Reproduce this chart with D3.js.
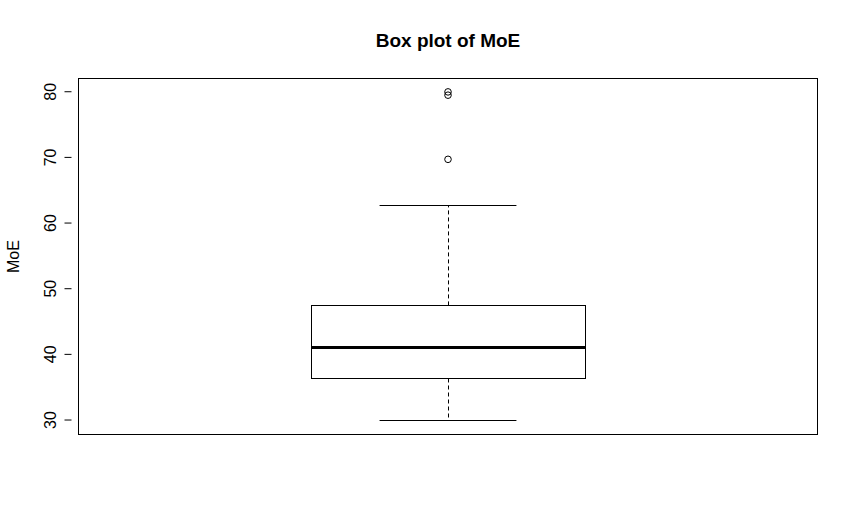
<!DOCTYPE html>
<html>
<head>
<meta charset="utf-8">
<script src="https://cdn.jsdelivr.net/npm/d3@7"></script>
<style>
  html, body { margin: 0; padding: 0; background: #ffffff; }
  svg { display: block; }
  text { font-family: "Liberation Sans", Arial, sans-serif; fill: #000; }
</style>
</head>
<body>
<script>
// ---- data ----
const title = "Box plot of MoE";
const yLabel = "MoE";
const groups = ["MoE"];
// five-number summary: lower whisker, Q1, median, Q3, upper whisker
const stats = [29.9, 36.25, 40.98, 47.38, 62.62];
const outliers = [69.63, 79.4, 79.9];
const yTicks = [30, 40, 50, 60, 70, 80];

// ---- layout ----
const W = 858, H = 532;
const plot = { left: 78.5, right: 817.5, top: 78.5, bottom: 434.5 };

const svg = d3.select("body").append("svg")
  .attr("width", W).attr("height", H);

const y = d3.scaleLinear()
  .domain([27.72, 81.94])
  .range([plot.bottom, plot.top]);

const x = d3.scaleLinear()
  .domain([0.46, 1.54])
  .range([plot.left, plot.right]);

// plot frame
svg.append("rect")
  .attr("x", plot.left).attr("y", plot.top)
  .attr("width", plot.right - plot.left)
  .attr("height", plot.bottom - plot.top)
  .attr("fill", "none").attr("stroke", "#000").attr("stroke-width", 1);

// y axis
const yAxis = d3.axisLeft(y).tickValues(yTicks).tickSize(7).tickPadding(0)
  .tickFormat(d3.format("d"));
const ag = svg.append("g").attr("transform", `translate(${plot.left - 7},0)`).call(yAxis);
ag.select(".domain").remove();
ag.selectAll(".tick line").attr("stroke", "#000").attr("x1", 0).attr("x2", 7)
  .attr("transform", "translate(-7,0)");
ag.selectAll(".tick text")
  .attr("x", 0).attr("y", 0).attr("dy", null)
  .attr("text-anchor", "middle")
  .attr("transform", "translate(-16,0) rotate(-90)")
  .style("font-size", "16px")
  .style("font-family", "'Liberation Sans', Arial, sans-serif")
  .attr("fill", "#000");
ag.attr("font-size", null).attr("font-family", null);

// y label
svg.append("text")
  .attr("transform", `translate(19,${(plot.top + plot.bottom) / 2}) rotate(-90)`)
  .attr("text-anchor", "middle")
  .style("font-size", "16px")
  .text(yLabel);

// title
svg.append("text")
  .attr("x", (plot.left + plot.right) / 2)
  .attr("y", 47)
  .attr("text-anchor", "middle")
  .style("font-size", "19px")
  .style("font-weight", "bold")
  .text(title);

// box plot
const cx = x(1);
const boxHalf = x(1.2) - x(1);
const capHalf = x(1.1) - x(1);
const g = svg.append("g").attr("stroke", "#000").attr("fill", "none");
const snap = v => Math.round(v) + 0.5;

// whiskers (dashed)
g.append("line")
  .attr("x1", snap(cx)).attr("x2", snap(cx))
  .attr("y1", y(stats[3])).attr("y2", y(stats[4]))
  .attr("stroke-dasharray", "4,3");
g.append("line")
  .attr("x1", snap(cx)).attr("x2", snap(cx))
  .attr("y1", y(stats[1])).attr("y2", y(stats[0]))
  .attr("stroke-dasharray", "4,3");

// caps
[stats[0], stats[4]].forEach(v => {
  g.append("line")
    .attr("x1", cx - capHalf).attr("x2", cx + capHalf)
    .attr("y1", snap(y(v))).attr("y2", snap(y(v)));
});

// box
g.append("rect")
  .attr("x", snap(cx - boxHalf)).attr("y", snap(y(stats[3])))
  .attr("width", Math.round(2 * boxHalf))
  .attr("height", Math.round(y(stats[1]) - y(stats[3])))
  .attr("fill", "#fff");

// median
g.append("line")
  .attr("x1", snap(cx - boxHalf)).attr("x2", snap(cx - boxHalf) + Math.round(2 * boxHalf))
  .attr("y1", y(stats[2])).attr("y2", y(stats[2]))
  .attr("stroke-width", 3);

// outliers
g.selectAll("circle.out").data(outliers).join("circle")
  .attr("class", "out")
  .attr("cx", cx).attr("cy", d => y(d))
  .attr("r", 3.3)
  .attr("stroke-width", 1);
</script>
</body>
</html>
